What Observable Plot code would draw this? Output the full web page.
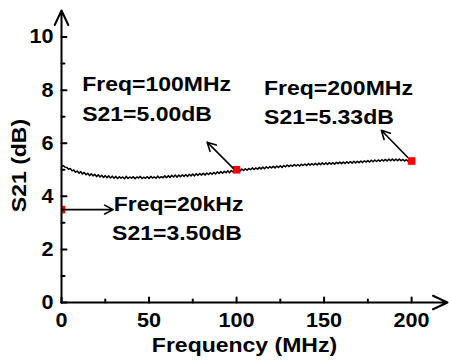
<!DOCTYPE html>
<html>
<head>
<meta charset="utf-8">
<script src="https://cdn.jsdelivr.net/npm/d3@7"></script>
<script src="https://cdn.jsdelivr.net/npm/@observablehq/plot@0.6"></script>
<style>
  html, body { margin: 0; padding: 0; background: #fff; }
  #chart { width: 449px; height: 360px; }
</style>
</head>
<body>
<div id="chart"></div>
<script>
// ---- data ----
const freqMHz = d3.range(0, 201); // sweep grid, 1 MHz steps
const s21dB = [
  5.12,5.16,5.10,5.09,5.02,5.05,4.96,4.99,4.91,4.95,
  4.87,4.93,4.84,4.90,4.81,4.87,4.78,4.85,4.77,4.83,
  4.74,4.81,4.73,4.79,4.71,4.78,4.70,4.77,4.69,4.76,
  4.68,4.75,4.67,4.74,4.68,4.73,4.66,4.75,4.67,4.73,
  4.68,4.74,4.66,4.73,4.69,4.75,4.67,4.72,4.68,4.74,
  4.67,4.75,4.69,4.73,4.68,4.76,4.69,4.74,4.70,4.77,
  4.70,4.78,4.71,4.79,4.73,4.80,4.72,4.80,4.74,4.81,
  4.75,4.82,4.75,4.83,4.77,4.84,4.77,4.85,4.79,4.86,
  4.80,4.87,4.80,4.88,4.82,4.89,4.83,4.90,4.84,4.92,
  4.86,4.93,4.87,4.94,4.89,4.96,4.89,4.97,4.92,4.99,
  4.95,5.01,4.95,5.03,4.97,5.04,4.98,5.05,5.00,5.07,
  5.01,5.07,5.02,5.09,5.03,5.10,5.04,5.11,5.06,5.12,
  5.07,5.13,5.07,5.14,5.09,5.15,5.09,5.16,5.11,5.18,
  5.12,5.18,5.13,5.20,5.14,5.20,5.14,5.21,5.16,5.22,
  5.16,5.23,5.17,5.23,5.18,5.24,5.18,5.25,5.19,5.26,
  5.20,5.26,5.20,5.27,5.21,5.27,5.21,5.28,5.23,5.29,
  5.23,5.29,5.24,5.30,5.25,5.31,5.25,5.32,5.26,5.32,
  5.27,5.33,5.27,5.34,5.29,5.35,5.29,5.36,5.30,5.37,
  5.31,5.37,5.32,5.38,5.33,5.39,5.33,5.40,5.34,5.40,
  5.34,5.40,5.34,5.40,5.34,5.39,5.33,5.38,5.32,5.36,
  5.32
];

const markerFreq = [0, 100, 200];
const markerS21 = [3.50, 5.00, 5.33];

const noteText = ["Freq=100MHz", "S21=5.00dB", "Freq=200MHz", "S21=5.33dB", "Freq=20kHz", "S21=3.50dB"];
const noteFreq = [11.8, 11.8, 115.7, 115.7, 29.8, 28.9];
const noteS21  = [7.97, 6.85, 7.80, 6.74, 3.44, 2.34];

const arrowFromFreq = [0.5, 98.0, 197.7];
const arrowFromS21  = [3.50, 5.06, 5.47];
const arrowToFreq   = [29.5, 83.2, 182.7];
const arrowToS21    = [3.50, 6.04, 6.49];

const xTicksMajor = [0, 50, 100, 150, 200];
const xTicksMinor = [25, 75, 125, 175];
const yTicksMajor = [0, 2, 4, 6, 8, 10];
const yTicksMinor = [1, 3, 5, 7, 9];
const xAxisEnd = 220.5;
const yAxisEnd = 11;

const xTitle = "Frequency (MHz)";
const yTitle = "S21 (dB)";

// ---- tables built from the arrays ----
const curve = freqMHz.map((f, i) => ({f, s: s21dB[i]}));
const markers = markerFreq.map((f, i) => ({f, s: markerS21[i]}));
const notes = noteText.map((t, i) => ({t, f: noteFreq[i], s: noteS21[i]}));
const arrows = arrowFromFreq.map((f, i) => ({x1: f, y1: arrowFromS21[i], x2: arrowToFreq[i], y2: arrowToS21[i]}));
const axes = [
  {x1: 0, y1: 0, x2: xAxisEnd, y2: 0},
  {x1: 0, y1: 0, x2: 0, y2: yAxisEnd}
];

// inward tick shapes
const tickUp = {draw(ctx, l) { ctx.moveTo(0, 0); ctx.lineTo(0, -l); }};
const tickRight = {draw(ctx, l) { ctx.moveTo(0, 0); ctx.lineTo(l, 0); }};

const font = "'Liberation Sans', Arial, sans-serif";

const chart = Plot.plot({
  width: 449,
  height: 360,
  marginLeft: 61,
  marginRight: 2,
  marginTop: 10,
  marginBottom: 58,
  style: {fontFamily: font, fontWeight: "bold", fontSize: "20px", color: "black", background: "white"},
  x: {domain: [0, xAxisEnd]},
  y: {domain: [0, yAxisEnd]},
  marks: [
    Plot.line(curve, {x: "f", y: "s", stroke: "black", strokeWidth: 1.5}),
    Plot.dot(markers, {x: "f", y: "s", symbol: "square", r: 4.3, fill: "#ff0000", stroke: null, clip: true}),
    Plot.arrow(arrows, {x1: "x1", y1: "y1", x2: "x2", y2: "y2", stroke: "black", strokeWidth: 1.6, headLength: 9, headAngle: 55}),
    Plot.text(notes, {x: "f", y: "s", text: "t", textAnchor: "start", lineAnchor: "bottom", fontSize: 20, fontWeight: "bold", fill: "black"}),
    Plot.axisX({ticks: xTicksMajor, tickSize: 0, tickPadding: 10, label: null, fontSize: 20, fontWeight: "bold"}),
    Plot.axisY({ticks: yTicksMajor, tickSize: 0, tickPadding: 8, label: null, fontSize: 20, fontWeight: "bold"}),
    Plot.vector(xTicksMajor, {x: d => d, y: () => 0, length: 5, anchor: "start", shape: tickUp, stroke: "black", strokeWidth: 2}),
    Plot.vector(xTicksMinor, {x: d => d, y: () => 0, length: 3, anchor: "start", shape: tickUp, stroke: "black", strokeWidth: 2}),
    Plot.vector(yTicksMajor, {x: () => 0, y: d => d, length: 5, anchor: "start", shape: tickRight, stroke: "black", strokeWidth: 2}),
    Plot.vector(yTicksMinor, {x: () => 0, y: d => d, length: 3, anchor: "start", shape: tickRight, stroke: "black", strokeWidth: 2}),
    Plot.arrow(axes, {x1: "x1", y1: "y1", x2: "x2", y2: "y2", stroke: "black", strokeWidth: 2, headLength: 12, headAngle: 50}),
    Plot.text([xTitle], {frameAnchor: "bottom", text: d => d, dx: -10, dy: 49.7, textAnchor: "middle", lineAnchor: "bottom", fontSize: 20, fontWeight: "bold"}),
    Plot.text([yTitle], {frameAnchor: "left", text: d => d, rotate: -90, dx: -36, dy: 9, textAnchor: "middle", lineAnchor: "bottom", fontSize: 20, fontWeight: "bold"})
  ]
});

// the reference typeface is slightly wide: stretch the glyphs horizontally
chart.querySelectorAll("text").forEach(t => {
  const g = t.closest("g[aria-label]");
  const label = g ? g.getAttribute("aria-label") : "";
  const k = label.includes("tick label") ? 1.08 : 1.15;
  const tr = t.getAttribute("transform") || "";
  t.setAttribute("transform", `${tr} scale(${k},1)`);
});

document.getElementById("chart").append(chart);
</script>
</body>
</html>
